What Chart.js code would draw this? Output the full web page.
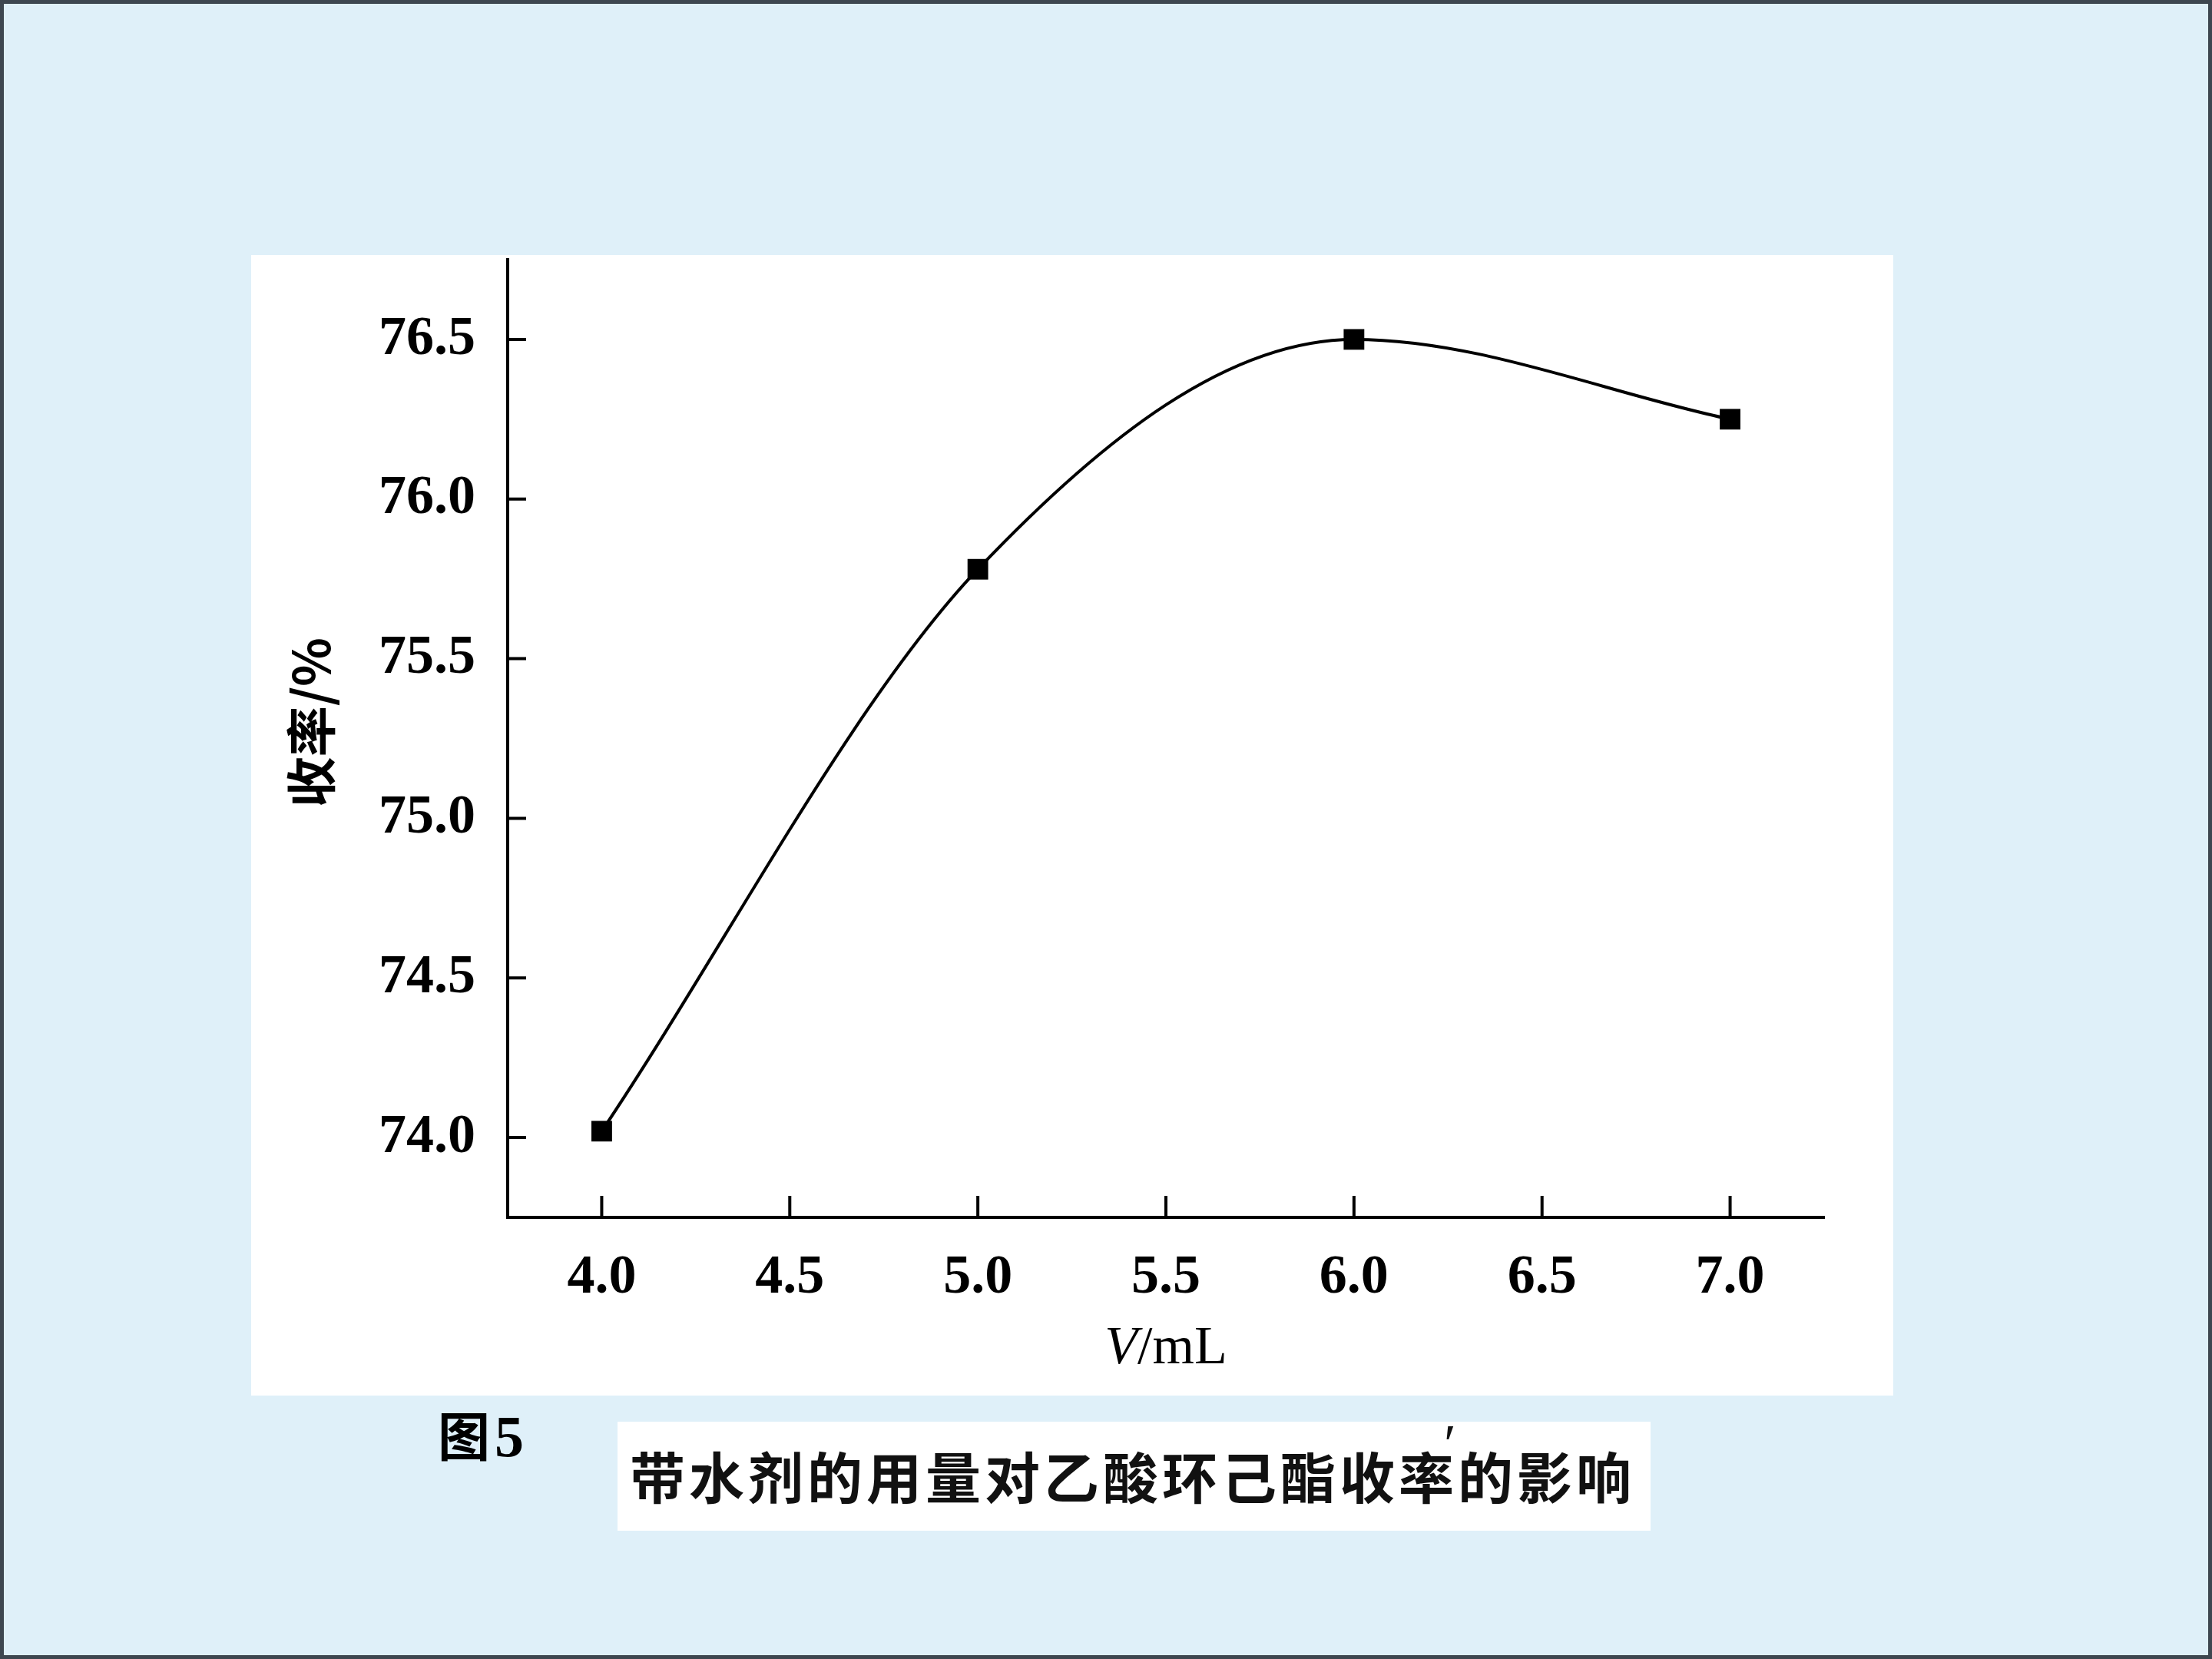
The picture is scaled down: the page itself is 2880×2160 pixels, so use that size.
<!DOCTYPE html>
<html>
<head>
<meta charset="utf-8">
<script src="https://cdn.jsdelivr.net/npm/chart.js"></script>
<style>
  html, body { margin: 0; padding: 0; }
  body { width: 2880px; height: 2160px; background: #dff0f9; position: relative; overflow: hidden; }
  .frame { position: absolute; left: 0; top: 0; width: 2880px; height: 2160px; box-sizing: border-box; border: 5px solid #3e4750; }
  .panel { position: absolute; left: 327px; top: 332px; width: 2138px; height: 1485px; background: #fff; }
  .panel canvas { position: absolute; left: 0; top: -13px; }
  .fig { position: absolute; left: 570px; top: 1826px; font: bold 68px "Noto Sans CJK SC"; color: #000; line-height: 1.2; white-space: nowrap; }
  .fig b { font: bold 76px "Liberation Serif"; margin-left: 6px; }
  .caption { position: absolute; left: 804px; top: 1851px; width: 1345px; height: 142px; background: #fff; }
  .caption span { position: absolute; left: 16px; top: 33px; font: bold 72px "Noto Sans CJK SC"; letter-spacing: 5px; line-height: 1; color: #111; white-space: nowrap; }
  .caption i { position: absolute; left: 1076px; top: -12px; font: normal 72px "Liberation Serif"; color: #111; }
</style>
</head>
<body>
<div class="frame"></div>
<div class="panel"><canvas id="yieldChart" width="2138" height="1498"></canvas></div>
<div class="fig">图<b>5</b></div>
<div class="caption"><span>带水剂的用量对乙酸环己酯收率的影响</span><i>′</i></div>

<script>
// data
const volumes = [4.0, 5.0, 6.0, 7.0];          // V / mL
const yields = [74.02, 75.78, 76.5, 76.25];     // 收率 / %
const xTicks = [4.0, 4.5, 5.0, 5.5, 6.0, 6.5, 7.0];
const yTicks = [74.0, 74.5, 75.0, 75.5, 76.0, 76.5];

// inward tick marks + both axis titles (x title has an italic V)
const axisExtras = {
  id: 'axisExtras',
  afterDraw(chart) {
    const { ctx, chartArea, scales: { x, y } } = chart;
    ctx.save();
    ctx.strokeStyle = '#000';
    ctx.lineWidth = 4;
    ctx.beginPath();
    xTicks.forEach(v => {
      const px = x.getPixelForValue(v);
      ctx.moveTo(px, chartArea.bottom);
      ctx.lineTo(px, chartArea.bottom - 28);
    });
    yTicks.forEach(v => {
      const py = y.getPixelForValue(v);
      ctx.moveTo(chartArea.left, py);
      ctx.lineTo(chartArea.left + 24, py);
    });
    ctx.stroke();

    // "V/mL"
    const italic = 'italic 70px "Liberation Serif"';
    const normal = '70px "Liberation Serif"';
    ctx.fillStyle = '#000';
    ctx.textBaseline = 'alphabetic';
    ctx.font = italic;
    const wV = ctx.measureText('V').width;
    ctx.font = normal;
    const wRest = ctx.measureText('/mL').width;
    const cx = (chartArea.left + chartArea.right) / 2;
    const startX = cx - (wV + wRest) / 2;
    const baseY = chartArea.bottom + 190;
    ctx.font = italic;
    ctx.fillText('V', startX, baseY);
    ctx.font = normal;
    ctx.fillText('/mL', startX + wV, baseY);

    // "收率/%"
    ctx.translate(78, y.getPixelForValue(75.3));
    ctx.rotate(-Math.PI / 2);
    ctx.font = 'bold 66px "Noto Sans CJK SC"';
    ctx.textAlign = 'center';
    ctx.textBaseline = 'middle';
    ctx.fillText('收率/%', 0, 0);
    ctx.restore();
  }
};

new Chart(document.getElementById("yieldChart"), {
  type: 'line',
  data: {
    datasets: [{
      data: volumes.map((v, i) => ({ x: v, y: yields[i] })),
      borderColor: '#000',
      borderWidth: 4,
      cubicInterpolationMode: 'monotone',
      pointStyle: 'rect',
      pointRadius: 19,
      pointBackgroundColor: '#000',
      pointBorderColor: '#000',
      pointBorderWidth: 0,
      clip: false
    }]
  },
  options: {
    responsive: false,
    animation: false,
    events: [],
    layout: {
      padding: { top: 4, right: 90, left: 0, bottom: 0 }
    },
    plugins: {
      legend: { display: false },
      tooltip: { enabled: false }
    },
    scales: {
      x: {
        type: 'linear',
        min: 3.75,
        max: 7.25,
        afterBuildTicks: s => { s.ticks = xTicks.map(v => ({ value: v })); },
        afterFit: s => { s.height = 232; },
        grid: { display: false },
        border: { display: true, color: '#000', width: 4 },
        ticks: {
          padding: 28,
          color: '#000',
          font: { family: 'Liberation Serif', size: 72, weight: 'bold' },
          callback: v => Number(v).toFixed(1),
          maxRotation: 0
        }
      },
      y: {
        min: 73.75,
        max: 76.75,
        afterBuildTicks: s => { s.ticks = yTicks.map(v => ({ value: v })); },
        afterFit: s => { s.width = 334; s.paddingTop = 0; s.paddingBottom = 0; },
        grid: { display: false },
        border: { display: true, color: '#000', width: 4 },
        ticks: {
          padding: 34,
          color: '#000',
          font: { family: 'Liberation Serif', size: 72, weight: 'bold' },
          callback: v => Number(v).toFixed(1)
        }
      }
    }
  },
  plugins: [axisExtras]
});
</script>
</body>
</html>
